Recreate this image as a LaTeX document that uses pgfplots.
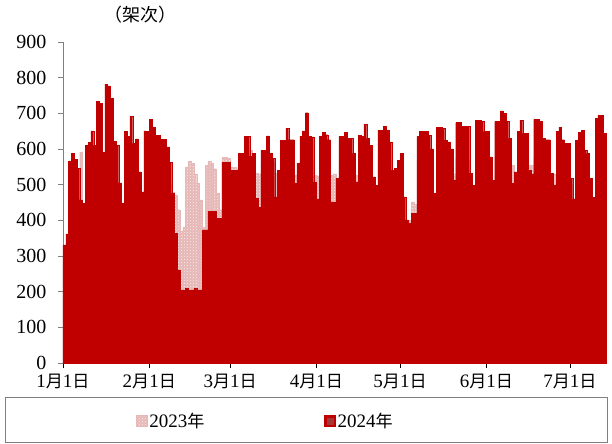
\documentclass[border=0pt]{standalone}
\usepackage{pgfplots}
\pgfplotsset{compat=1.18}
\usepackage{pgfplotstable}
\usetikzlibrary{patterns}
\usepackage{fontspec}
\setmainfont{Liberation Serif}
\newfontfamily\cjk[Scale=0.9]{Noto Sans CJK SC}
\newcommand{\zh}[1]{{\cjk #1}}
\definecolor{c24}{HTML}{C00000}
\definecolor{c23}{HTML}{E6B9B8}

% day index (0 = 1 Jan), a = 2024, b = 2023 (flights per day)
\pgfplotstableread{
d a b
0 331 300
1 362 320
2 567 420
3 588 430
4 571 440
5 546 450
6 457 592
7 448 400
8 611 430
9 618 430
10 651 435
11 610 440
12 733 440
13 728 430
14 590 420
15 782 430
16 777 435
17 742 440
18 622 440
19 611 430
20 505 420
21 448 410
22 649 440
23 635 440
24 692 440
25 616 440
26 628 440
27 536 430
28 480 420
29 651 440
30 649 445
31 683 450
32 660 450
33 639 455
34 639 455
35 627 460
36 627 460
37 606 470
38 562 500
39 475 480
40 364 470
41 261 430
42 205 370
43 205 380
44 210 550
45 205 565
46 205 560
47 210 530
48 205 505
49 205 457
50 373 380
51 373 555
52 425 565
53 425 560
54 425 545
55 405 475
56 405 430
57 562 577
58 562 577
59 562 575
60 541 550
61 541 548
62 541 545
63 588 530
64 588 560
65 636 565
66 636 570
67 580 597
68 588 570
69 462 532
70 437 530
71 597 560
72 597 565
73 637 570
74 588 565
75 574 560
76 466 532
77 540 528
78 625 565
79 625 570
80 658 570
81 626 570
82 626 565
83 504 527
84 560 530
85 636 570
86 651 575
87 702 575
88 636 570
89 634 565
90 507 527
91 460 525
92 636 570
93 646 575
94 640 575
95 626 570
96 452 527
97 450 530
98 518 500
99 635 565
100 635 570
101 647 575
102 630 570
103 630 565
104 588 560
105 508 527
106 639 570
107 635 575
108 669 580
109 630 575
110 611 570
111 522 515
112 499 495
113 653 575
114 653 580
115 664 580
116 653 575
117 620 570
118 541 525
119 546 530
120 569 540
121 588 530
122 466 460
123 401 395
124 392 400
125 420 452
126 420 445
127 635 570
128 649 575
129 649 575
130 649 575
131 639 570
132 600 575
133 476 470
134 660 575
135 660 575
136 658 575
137 625 570
138 620 570
139 600 575
140 513 530
141 674 575
142 674 575
143 663 575
144 664 575
145 664 570
146 532 520
147 499 495
148 681 575
149 681 575
150 677 575
151 649 575
152 649 570
153 578 560
154 513 510
155 677 575
156 677 575
157 707 575
158 700 575
159 677 575
160 630 580
161 504 555
162 536 530
163 649 575
164 681 575
165 644 575
166 644 575
167 541 555
168 530 555
169 683 575
170 683 575
171 677 575
172 630 575
173 626 575
174 626 575
175 532 520
176 499 530
177 649 575
178 661 575
179 626 575
180 616 575
181 616 575
182 518 500
183 460 455
184 625 575
185 646 575
186 653 575
187 597 575
188 588 575
189 518 505
190 465 455
191 686 575
192 695 575
193 695 575
194 644 575
}\datatable

\begin{document}
\begin{tikzpicture}
\begin{axis}[
    width=544pt, height=321pt, scale only axis,
    xmin=0, xmax=195.3, ymin=0, ymax=900,
    axis x line*=bottom, axis y line*=left,
    x axis line style={black, line width=0.8pt},
    y axis line style={gray, line width=0.8pt},
    tick align=outside, major tick length=5pt,
    xtick={0,31,60,91,121,152,182},
    xticklabels={1\zh{月}1\zh{日},2\zh{月}1\zh{日},3\zh{月}1\zh{日},4\zh{月}1\zh{日},5\zh{月}1\zh{日},6\zh{月}1\zh{日},7\zh{月}1\zh{日}},
    ytick={0,100,...,900},
    xtick style={black, line width=0.8pt},
    ytick style={gray, line width=0.8pt},
    /pgf/number format/assume math mode=true,
    xticklabel style={font=\fontsize{19}{21}\selectfont, yshift=-5pt, inner sep=0.5pt},
    yticklabel style={font=\fontsize{20}{22}\selectfont, xshift=-11pt, inner sep=0.5pt},
    clip=false,
    legend columns=2,
    legend style={at={(0.134,-0.181)}, anchor=west, draw=none, fill=none,
        inner sep=0pt, font=\fontsize{19}{21}\selectfont,
        /tikz/every even column/.append style={column sep=118pt}},
]
\addplot[ybar, bar width=1, bar shift=0pt, fill=c23, draw=c23, line width=0.2pt,
    postaction={pattern=crosshatch dots, pattern color=white!70!c23},
    legend image code/.code={\fill[c23] (0pt,-5.5pt) rectangle (11pt,5.5pt);}]
    table[x expr=\thisrow{d}+0.5, y=b] {\datatable};
\addlegendentry{2023\zh{年}}
\addplot[ybar, bar width=1, bar shift=0pt, fill=c24, draw=c24, line width=0.2pt,
    legend image code/.code={\fill[c24] (0pt,-5.5pt) rectangle (11pt,5.5pt);
        \fill[c24!55!gray] (2.5pt,-3pt) rectangle (8.5pt,3pt);}]
    table[x expr=\thisrow{d}+0.5, y=a] {\datatable};
\addlegendentry{2024\zh{年}}
\node[font=\fontsize{20}{22}\selectfont\cjk] at (rel axis cs:0.143,1.084) {（架次）};
\draw[gray, line width=1pt] (rel axis cs:-0.1066,-0.109) rectangle (rel axis cs:1.0,-0.249);
\coordinate (ll) at (rel axis cs:-0.1158,-0.2523);
\coordinate (ur) at (rel axis cs:1.0092,1.1308);
\end{axis}
\pgfresetboundingbox
\useasboundingbox (ll) rectangle (ur);
\end{tikzpicture}
\end{document}
